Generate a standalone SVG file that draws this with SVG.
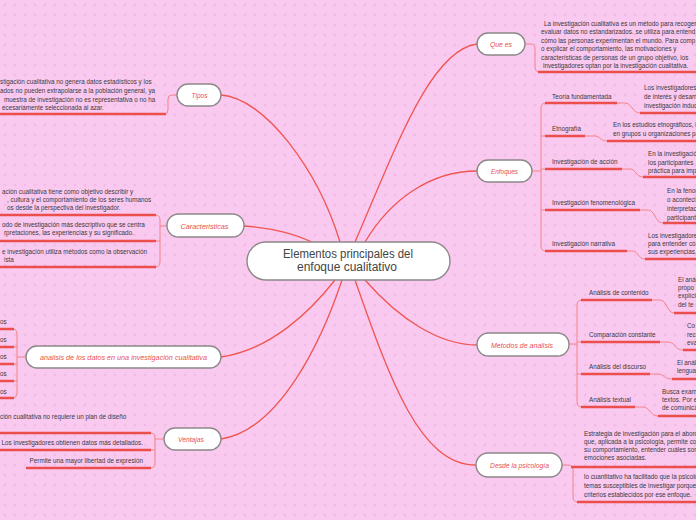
<svg xmlns="http://www.w3.org/2000/svg" width="696" height="520" viewBox="0 0 696 520">
<defs>
<pattern id="grid" x="0" y="0" width="10" height="10" patternUnits="userSpaceOnUse">
<path d="M5,3.6 V6.4 M3.6,5 H6.4" stroke="#e9b1dd" stroke-width="0.7" fill="none"/>
</pattern>
<style>
.main{fill:none;stroke:#ef5650;stroke-width:1.3}
.thin{fill:none;stroke:#f37a78;stroke-width:0.9}
.ul{fill:none;stroke:#ec4f4b;stroke-width:2.4}
.node{fill:#ffffff;stroke:#8c8888;stroke-width:1.4}
.lbl{font-family:"Liberation Sans",Arial,sans-serif;font-style:italic;font-size:8px;fill:#ea514c;text-anchor:middle}
.t{font-family:"Liberation Sans",Arial,sans-serif;font-size:6.3px;fill:#3a3a3a}
.e{text-anchor:end}
.ctr{font-family:"Liberation Sans",Arial,sans-serif;font-size:12px;fill:#444;text-anchor:middle}
</style>
</defs>
<rect width="696" height="520" fill="#fac9f0"/>
<rect width="696" height="520" fill="url(#grid)"/>

<g id="connectors">
<path class="main" d="M355,242 C395,150 430,50 477,44"/>
<path class="main" d="M365,242 C390,200 430,171 477,171"/>
<path class="main" d="M365,280 C400,320 440,345 477,345"/>
<path class="main" d="M355,280 C390,380 420,465 476,465"/>
<path class="main" d="M221,95 C265,98 318,170 340,242"/>
<path class="main" d="M244,226 C270,228 295,234 312,242"/>
<path class="main" d="M221,357 C270,350 310,312 335,280"/>
<path class="main" d="M221,439 C280,430 322,340 342,280"/>

<!-- Que es -->
<path class="thin" d="M525,44 H531 Q535,44 535,49 V67 Q535,72 540,72"/>
<path class="ul" d="M538,72 H696"/>
<!-- Enfoques -->
<path class="thin" d="M532,171 H541 M546,103 Q541,103 541,108 V246 Q541,251 546,251 M541,136 H546 M541,169 H546 M541,210 H546"/>
<path class="ul" d="M545,103 H617 M545,136 H585 M545,169 H622 M545,210 H640 M545,251 H627"/>
<path class="thin" d="M617,103 H625 C632,103 632,113 640,113 M585,136 H595 C600,136 600,141 607,141 M622,169 H630 C636,169 636,177 643,177 M640,210 H648 C655,210 655,223 663,223 M627,251 H633 C638,251 638,259 645,259"/>
<path class="ul" d="M640,113 H696 M607,141 H696 M643,177 H696 M663,223 H696 M645,259 H696"/>
<!-- Metodos -->
<path class="thin" d="M569,344 H577 M582,300 Q577,300 577,305 V402 Q577,407 582,407 M577,342 H582 M577,374 H582"/>
<path class="ul" d="M581,300 H652 M581,342 H660 M581,374 H650 M581,407 H635"/>
<path class="thin" d="M652,300 H660 C667,300 667,313 674,313 M660,342 H668 C675,342 675,350 683,350 M650,374 H658 C664,374 664,379 672,379 M635,407 H643 C650,407 650,416 658,416"/>
<path class="ul" d="M674,313 H696 M683,350 H696 M672,379 H696 M658,416 H696"/>
<!-- Desde -->
<path class="thin" d="M562,465 H568 Q573,465 573,470 V497 Q573,502 578,502"/>
<path class="ul" d="M571,467 H696 M577,502 H696"/>
<!-- Tipos -->
<path class="thin" d="M177,95 H172 Q168,95 168,99 V110 Q168,114 164,114"/>
<path class="ul" d="M0,114 H166"/>
<!-- Caracteristicas -->
<path class="thin" d="M167,226 H160 M155,215 Q160,215 160,220 V262 Q160,267 155,267 M156,241 H160"/>
<path class="ul" d="M0,215 H156 M0,241 H156 M0,267 H156"/>
<!-- analisis -->
<path class="thin" d="M26,357 H17 M12,329 Q17,329 17,334 V393 Q17,398 12,398 M13,347 H17 M13,364 H17 M13,381 H17"/>
<path class="ul" d="M0,329 H14 M0,347 H14 M0,364 H14 M0,381 H14 M0,398 H14"/>
<!-- Ventajas -->
<path class="thin" d="M164,439 H155 M150,433 Q155,433 155,438 V463 Q155,468 150,468 M150,450 H155"/>
<path class="ul" d="M0,433 H151 M0,450 H151 M26,468 H151"/>
</g>

<g id="central">
<rect class="node" x="247" y="242" width="203" height="38" rx="19" stroke-width="2"/>
<text class="ctr" x="348" y="258" textLength="130" lengthAdjust="spacingAndGlyphs">Elementos principales del</text>
<text class="ctr" x="347" y="271" textLength="100" lengthAdjust="spacingAndGlyphs">enfoque cualitativo</text>
</g>

<g id="que-es">
<rect class="node" x="477" y="33" width="48" height="22" rx="11"/>
<text class="lbl" x="501" y="47" textLength="22" lengthAdjust="spacingAndGlyphs">Que es</text>
<text class="t" x="544" y="25.5">La investigación cualitativa es un método para recoger</text>
<text class="t" x="541" y="34">evaluar datos no estandarizados. se utiliza para entend</text>
<text class="t" x="541" y="42.5">cómo las personas experimentan el mundo. Para comp</text>
<text class="t" x="541" y="51">o explicar el comportamiento, las motivaciones y</text>
<text class="t" x="541" y="59.5">características de personas de un grupo objetivo, los</text>
<text class="t" x="543" y="68">investigadores optan por la investigación cualitativa.</text>
</g>

<g id="enfoques">
<rect class="node" x="477" y="160" width="55" height="22" rx="11"/>
<text class="lbl" x="504.5" y="174" textLength="27" lengthAdjust="spacingAndGlyphs">Enfoques</text>
<text class="t" x="552" y="99">Teoría fundamentada</text>
<text class="t" x="644" y="90">Los investigadores</text>
<text class="t" x="644" y="99">de interés y desarr</text>
<text class="t" x="644" y="107.5">investigación induc</text>
<text class="t" x="552" y="131">Etnografía</text>
<text class="t" x="613" y="127">En los estudios etnográficos, l</text>
<text class="t" x="613" y="136">en grupos u organizaciones pa</text>
<text class="t" x="552" y="164">Investigación de acción</text>
<text class="t" x="648" y="156">En la investigació</text>
<text class="t" x="648" y="165">los participantes</text>
<text class="t" x="648" y="173">práctica para imp</text>
<text class="t" x="552" y="205">Investigación fenomenológica</text>
<text class="t" x="667" y="193">En la fenom</text>
<text class="t" x="667" y="202">o aconteci</text>
<text class="t" x="667" y="211">interpretac</text>
<text class="t" x="667" y="220">participant</text>
<text class="t" x="552" y="246">Investigación narrativa</text>
<text class="t" x="648" y="238">Los investigadores</text>
<text class="t" x="648" y="246">para entender có</text>
<text class="t" x="648" y="254">sus experiencias.</text>
</g>

<g id="metodos">
<rect class="node" x="477" y="333" width="92" height="23" rx="11.5"/>
<text class="lbl" x="522" y="347.5" textLength="62" lengthAdjust="spacingAndGlyphs">Metodos de analisis</text>
<text class="t" x="589" y="295">Análisis de contenido</text>
<text class="t" x="678" y="282">El anál</text>
<text class="t" x="678" y="290">propo</text>
<text class="t" x="678" y="298">explíci</text>
<text class="t" x="678" y="307">del te</text>
<text class="t" x="589" y="337">Comparación constante</text>
<text class="t" x="687" y="328">Co</text>
<text class="t" x="687" y="337">rec</text>
<text class="t" x="687" y="345">eva</text>
<text class="t" x="589" y="369">Análisis del discurso</text>
<text class="t" x="677" y="365">El análi</text>
<text class="t" x="677" y="373">lengua</text>
<text class="t" x="589" y="402">Análisis textual</text>
<text class="t" x="662" y="394">Busca exam</text>
<text class="t" x="662" y="402">textos. Por e</text>
<text class="t" x="662" y="410">de comunica</text>
</g>

<g id="desde-psicologia">
<rect class="node" x="476" y="453" width="86" height="24" rx="12"/>
<text class="lbl" x="519.5" y="468" textLength="59" lengthAdjust="spacingAndGlyphs">Desde la psicología</text>
<text class="t" x="584" y="436">Estrategia de investigación para el abord</text>
<text class="t" x="584" y="444">que, aplicada a la psicología, permite co</text>
<text class="t" x="584" y="452">su comportamiento, entender cuáles son</text>
<text class="t" x="584" y="460">emociones asociadas.</text>
<text class="t" x="584" y="479">lo cuantitativo ha facilitado que la psicolo</text>
<text class="t" x="584" y="488">temas susceptibles de investigar porque</text>
<text class="t" x="584" y="497">criterios establecidos por ese enfoque.</text>
</g>

<g id="tipos">
<rect class="node" x="177" y="84" width="44" height="22" rx="11"/>
<text class="lbl" x="199.5" y="98" textLength="16" lengthAdjust="spacingAndGlyphs">Tipos</text>
<text class="t" x="0" y="84">stigación cualitativa no genera datos estadísticos y los</text>
<text class="t" x="0" y="93">ados no pueden extrapolarse a la población general, ya</text>
<text class="t" x="4" y="101.5">muestra de investigación no es representativa o no ha</text>
<text class="t" x="2" y="110">ecesariamente seleccionada al azar.</text>
</g>

<g id="caracteristicas">
<rect class="node" x="167" y="214" width="77" height="23" rx="11.5"/>
<text class="lbl" x="204.5" y="228.5" textLength="48" lengthAdjust="spacingAndGlyphs">Caracteristicas</text>
<text class="t" x="2" y="194">ación cualitativa tiene como objetivo describir y</text>
<text class="t" x="7" y="202">, cultura y el comportamiento de los seres humanos</text>
<text class="t" x="7" y="210">os desde la perspectiva del investigador.</text>
<text class="t" x="2" y="227">odo de investigación más descriptivo que se centra</text>
<text class="t" x="4" y="235">rpretaciones, las experiencias y su significado.</text>
<text class="t" x="2" y="254">e investigación utiliza métodos como la observación</text>
<text class="t" x="4" y="262">ista</text>
</g>

<g id="analisis-datos">
<rect class="node" x="26" y="346" width="195" height="22" rx="11"/>
<text class="lbl" x="123.5" y="360" textLength="167" lengthAdjust="spacingAndGlyphs">analisis de los datos en una investigación cualitativa</text>
<text class="t" x="0" y="324">os</text>
<text class="t" x="0" y="342">os</text>
<text class="t" x="0" y="359">os</text>
<text class="t" x="0" y="376">os</text>
<text class="t" x="0" y="394">os</text>
</g>

<g id="ventajas">
<rect class="node" x="164" y="428" width="57" height="22" rx="11"/>
<text class="lbl" x="191" y="442" textLength="26" lengthAdjust="spacingAndGlyphs">Ventajas</text>
<text class="t" x="0" y="419">ción cualitativa no requiere un plan de diseño</text>
<text class="t e" x="143" y="445">Los investigadores obtienen datos más detallados.</text>
<text class="t e" x="143" y="463">Permite una mayor libertad de expresión</text>
</g>
</svg>
